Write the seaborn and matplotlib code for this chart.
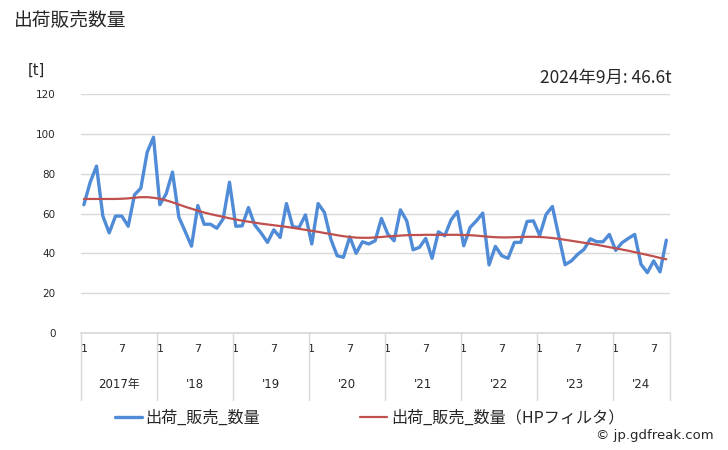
import numpy as np
import pandas as pd
import matplotlib
matplotlib.use("Agg")
import matplotlib.pyplot as plt
import seaborn as sns
from matplotlib.lines import Line2D

# ---- data ----
years = [2017, 2018, 2019, 2020, 2021, 2022, 2023, 2024]
year_labels = ["2017年", "'18", "'19", "'20", "'21", "'22", "'23", "'24"]
month_tick_labels = ["1", "7"]

volume = [
    64.4, 75.7, 83.8, 58.7, 50.3, 58.7, 58.7, 53.6, 69.4, 72.7, 90.8, 98.3,
    64.4, 69.9, 80.8, 58.2, 51.0, 43.6, 64.0, 54.6, 54.6, 52.6, 57.3, 75.7,
    53.6, 53.8, 63.0, 54.2, 50.2, 45.5, 51.8, 48.0, 65.0, 53.3, 53.0, 59.3,
    44.7, 65.0, 60.5, 47.2, 38.8, 38.0, 48.3, 40.0, 45.8, 44.7, 46.3, 57.5,
    49.7, 46.3, 61.8, 56.3, 41.8, 43.0, 47.5, 37.5, 50.8, 48.8, 56.8, 61.0,
    43.8, 53.0, 56.3, 60.2, 34.2, 43.5, 38.8, 37.5, 45.5, 45.5, 56.0, 56.3,
    49.0, 59.5, 63.5, 48.8, 34.3, 36.2, 39.5, 42.0, 47.3, 45.8, 45.8, 49.5,
    41.5, 45.3, 47.5, 49.5, 34.5, 30.3, 36.2, 30.7, 46.6,
]

trend = [
    67.3, 67.3, 67.3, 67.3, 67.3, 67.3, 67.4, 67.6, 67.9, 68.2, 68.2, 67.9,
    67.4, 66.6, 65.6, 64.5, 63.4, 62.4, 61.4, 60.5, 59.7, 59.0, 58.3, 57.6,
    57.0, 56.4, 55.9, 55.4, 54.9, 54.5, 54.1, 53.7, 53.3, 52.8, 52.3, 51.8,
    51.3, 50.8, 50.2, 49.7, 49.1, 48.6, 48.2, 47.9, 47.8, 47.8, 48.0, 48.2,
    48.5, 48.7, 48.9, 49.1, 49.2, 49.2, 49.3, 49.3, 49.3, 49.3, 49.3, 49.3,
    49.2, 49.1, 48.9, 48.6, 48.3, 48.1, 48.0, 48.0, 48.1, 48.2, 48.3, 48.3,
    48.2, 48.0, 47.7, 47.3, 46.8, 46.3, 45.8, 45.3, 44.8, 44.3, 43.7, 43.1,
    42.5, 41.9, 41.3, 40.6, 39.9, 39.2, 38.5, 37.7, 37.0,
]

series_names = ["出荷_販売_数量", "出荷_販売_数量（HPフィルタ）"]
title = "出荷販売数量"
unit = "[t]"
latest_note = "2024年9月: 46.6t"
credit = "© jp.gdfreak.com"

# ---- style ----
sns.set_theme(style="white")
plt.rcParams["font.family"] = ["Noto Sans CJK JP", "DejaVu Sans"]

blue = "#4F8BD6"
red = "#C0504D"
grid_c = "#D9D9D9"

n = len(volume)
df = pd.DataFrame({"idx": np.arange(n), "volume": volume, "trend": trend})

fig = plt.figure(figsize=(7.28, 4.5), dpi=100)
ax = fig.add_axes([80.7 / 728, 1 - 333 / 450, (669.5 - 80.7) / 728, (333 - 94) / 450])

sns.lineplot(data=df, x="idx", y="volume", ax=ax, color=blue, linewidth=2.4)
sns.lineplot(data=df, x="idx", y="trend", ax=ax, color=red, linewidth=1.6)

ax.set_xlim(-0.5, n - 0.5)
ax.set_ylim(0, 120)
ax.set_yticks(np.arange(0, 121, 20))
ax.set_yticklabels([str(v) for v in range(0, 121, 20)], family="DejaVu Sans", fontsize=7.5)
ax.yaxis.grid(True, color=grid_c, linewidth=1)
ax.set_xlabel("")
ax.set_ylabel("")
for s in ["top", "right", "left"]:
    ax.spines[s].set_visible(False)
ax.spines["bottom"].set_color(grid_c)
ax.tick_params(axis="y", length=0, pad=18)

# month ticks
xt, xl = [], []
for k in range(n):
    m = k % 12 + 1
    if str(m) in month_tick_labels:
        xt.append(k)
        xl.append(str(m))
ax.set_xticks(xt)
ax.set_xticklabels(xl, family="DejaVu Sans", fontsize=8)
ax.tick_params(axis="x", length=0, pad=8)

# year separators and labels
trans = ax.get_xaxis_transform()
for j, lab in enumerate(year_labels):
    start = j * 12 - 0.5
    end = min((j + 1) * 12, n) - 0.5
    ax.add_line(Line2D([start, start], [0, -0.28], transform=trans, color=grid_c,
                       linewidth=1, clip_on=False))
    ax.text((start + end) / 2, -0.215, lab, transform=trans, ha="center", va="center",
            fontsize=8.5, family=["DejaVu Sans", "Noto Sans CJK JP"])
ax.add_line(Line2D([n - 0.5, n - 0.5], [0, -0.28], transform=trans, color=grid_c,
                   linewidth=1, clip_on=False))

# texts
fig.text(14 / 728, 1 - 20 / 450, title, fontsize=13.5, va="center", ha="left")
fig.text(28 / 728, 1 - 70 / 450, unit, fontsize=10.5, va="center", ha="left",
         family="DejaVu Sans")
fig.text(672 / 728, 1 - 78 / 450, latest_note, fontsize=12.5, va="center", ha="right")
fig.text(714 / 728, 1 - 436 / 450, credit, fontsize=9.5, va="center", ha="right",
         family="DejaVu Sans")

handles = [Line2D([0], [0], color=blue, linewidth=2.4),
           Line2D([0], [0], color=red, linewidth=1.6)]
fig.legend(handles, series_names, loc="center left", bbox_to_anchor=(115 / 728, 1 - 418 / 450),
           ncol=2, frameon=False, fontsize=11.6, handlelength=1.65, handletextpad=0.25,
           columnspacing=6.2, borderaxespad=0, borderpad=0)

fig.savefig("out.png", dpi=100)
